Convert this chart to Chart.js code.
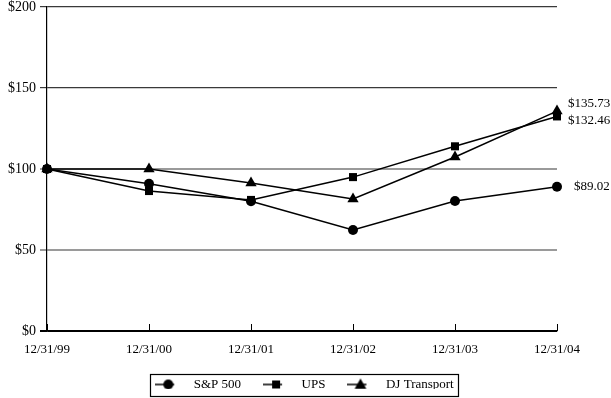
<!DOCTYPE html>
<html>
<head>
<meta charset="utf-8">
<script src="https://cdn.jsdelivr.net/npm/chart.js@4/dist/chart.umd.min.js"></script>
<style>
  html, body { margin: 0; padding: 0; background: #fff; }
  #wrap { width: 611px; height: 398px; }
</style>
</head>
<body>
<div id="wrap"><canvas id="myChart" width="611" height="398"></canvas></div>
<script>
// DATA
const dates = ["12/31/99", "12/31/00", "12/31/01", "12/31/02", "12/31/03", "12/31/04"];
const sp500 = [100, 90.9, 80.1, 62.4, 80.3, 89.02];
const ups = [100, 86.4, 80.9, 95.0, 114.0, 132.46];
const djTransport = [100, 100.0, 91.4, 81.5, 107.4, 135.73];
const yTicks = [0, 50, 100, 150, 200];

const FONT = "'Liberation Serif', 'Times New Roman', serif";

// legend icon: short line with the marker on it
function legendIcon(style) {
  const c = document.createElement("canvas");
  c.width = 34;
  c.height = 14;
  const g = c.getContext("2d");
  g.strokeStyle = "#000";
  g.fillStyle = "#000";
  g.lineWidth = 1.5;
  g.beginPath();
  g.moveTo(0, 7);
  g.lineTo(19, 7);
  g.stroke();
  const cx = 13, cy = 7;
  g.beginPath();
  if (style === "circle") {
    g.arc(cx, cy, 5, 0, Math.PI * 2);
  } else if (style === "rect") {
    g.rect(cx - 4, cy - 4, 8, 8);
  } else {
    g.moveTo(cx, cy - 6);
    g.lineTo(cx + 6, cy + 4.5);
    g.lineTo(cx - 6, cy + 4.5);
    g.closePath();
  }
  g.fill();
  return c;
}

// keep the legend short so the plot gets the room, then pull it up a bit
const legendFit = {
  id: "legendFit",
  beforeLayout(chart) {
    const lg = chart.legend;
    if (lg && !lg._patched) {
      const fit = lg.fit.bind(lg);
      lg.fit = function () {
        fit();
        this.height = 35;
      };
      lg._patched = true;
    }
  },
  afterLayout(chart) {
    const lg = chart.legend;
    lg.top -= 7;
    lg.bottom -= 7;
  },
};

const endLabels = {
  id: "endLabels",
  afterDatasetsDraw(chart) {
    const ctx = chart.ctx;
    ctx.save();
    ctx.font = "13px " + FONT;
    ctx.fillStyle = "#000";
    ctx.textBaseline = "middle";
    const offsets = [[17, 0], [11, 4], [11, -8]];
    chart.data.datasets.forEach((ds, i) => {
      const meta = chart.getDatasetMeta(i);
      const pt = meta.data[meta.data.length - 1];
      const v = ds.data[ds.data.length - 1];
      ctx.fillText("$" + v.toFixed(2), pt.x + offsets[i][0], pt.y + offsets[i][1]);
    });
    ctx.restore();
  },
};

const axisExtras = {
  id: "axisExtras",
  afterDraw(chart) {
    const ctx = chart.ctx;
    const x = chart.scales.x;
    const area = chart.chartArea;
    ctx.save();
    ctx.strokeStyle = "#000";
    ctx.lineWidth = 1;
    // upward tick marks on the x axis
    dates.forEach((d, i) => {
      const px = Math.round(x.getPixelForValue(i)) + 0.5;
      ctx.beginPath();
      ctx.moveTo(px, area.bottom);
      ctx.lineTo(px, area.bottom - 7);
      ctx.stroke();
    });
    // box round the legend
    const boxes = chart.legend.legendHitBoxes;
    if (boxes && boxes.length) {
      const left = Math.min(...boxes.map((b) => b.left)) - 7;
      const right = Math.max(...boxes.map((b) => b.left + b.width)) + 5;
      const top = boxes[0].top - 4;
      const bottom = boxes[0].top + boxes[0].height + 5;
      ctx.lineWidth = 1.2;
      ctx.strokeRect(Math.round(left) + 0.5, Math.round(top) + 0.5, Math.round(right - left), Math.round(bottom - top));
    }
    ctx.restore();
  },
};

const styles = ["circle", "rect", "triangle"];
const radii = [5, 5.7, 6.5];

const ctx = document.getElementById("myChart");

new Chart(ctx, {
  type: "line",
  data: {
    labels: dates,
    datasets: [
      { label: "S&P 500", data: sp500 },
      { label: "UPS", data: ups },
      { label: "DJ Transport", data: djTransport },
    ].map((ds, i) => ({
      ...ds,
      borderColor: "#000",
      backgroundColor: "#000",
      borderWidth: 1.5,
      pointStyle: styles[i],
      pointRadius: radii[i],
      pointBorderWidth: 0,
      pointBackgroundColor: "#000",
      tension: 0,
      clip: false,
    })),
  },
  options: {
    responsive: false,
    animation: false,
    events: [],
    layout: { padding: { left: 0, right: 0, top: 7, bottom: 2 } },
    scales: {
      x: {
        type: "category",
        offset: false,
        grid: { display: false, drawTicks: false },
        border: { display: true, color: "#000", width: 1.2 },
        ticks: {
          padding: 11,
          maxRotation: 0,
          autoSkip: false,
          color: "#000",
          font: { family: FONT, size: 13 },
        },
        afterFit(scale) {
          scale.height = 30;
          scale.paddingLeft = 0;
          scale.paddingRight = 0;
        },
      },
      y: {
        min: 0,
        max: 200,
        afterBuildTicks(scale) { scale.ticks = yTicks.map((v) => ({ value: v })); },
        grid: {
          tickLength: 7,
          color: (c) => (c.tick && c.tick.value === 0 ? "#000" : c.tick && c.tick.value >= 150 ? "#3a3a3a" : "#9a9a9a"),
          lineWidth: (c) => (c.tick && c.tick.value >= 150 ? 1.2 : 2),
        },
        border: { display: true, color: "#000", width: 1.2 },
        ticks: {
          padding: 4,
          color: "#000",
          font: { family: FONT, size: 14 },
          callback: (v) => "$" + v,
        },
        afterFit(scale) {
          scale.width = 47;
          scale.paddingTop = 0;
          scale.paddingBottom = 0;
        },
      },
      // empty axis on the right: room for the end labels
      yRight: {
        position: "right",
        display: true,
        ticks: { display: false },
        grid: { display: false },
        border: { display: false },
        afterFit(scale) {
          scale.width = 54;
          scale.paddingTop = 0;
          scale.paddingBottom = 0;
        },
      },
    },
    plugins: {
      legend: {
        position: "bottom",
        labels: {
          usePointStyle: true,
          pointStyleWidth: 30,
          padding: 24,
          color: "#000",
          font: { family: FONT, size: 13 },
          generateLabels(chart) {
            return chart.data.datasets.map((ds, i) => ({
              text: ds.label,
              pointStyle: legendIcon(styles[i]),
              fillStyle: "#000",
              strokeStyle: "#000",
              lineWidth: 0,
              hidden: false,
              datasetIndex: i,
              fontColor: "#000",
            }));
          },
        },
      },
      tooltip: { enabled: false },
    },
  },
  plugins: [legendFit, endLabels, axisExtras],
});
</script>
</body>
</html>
